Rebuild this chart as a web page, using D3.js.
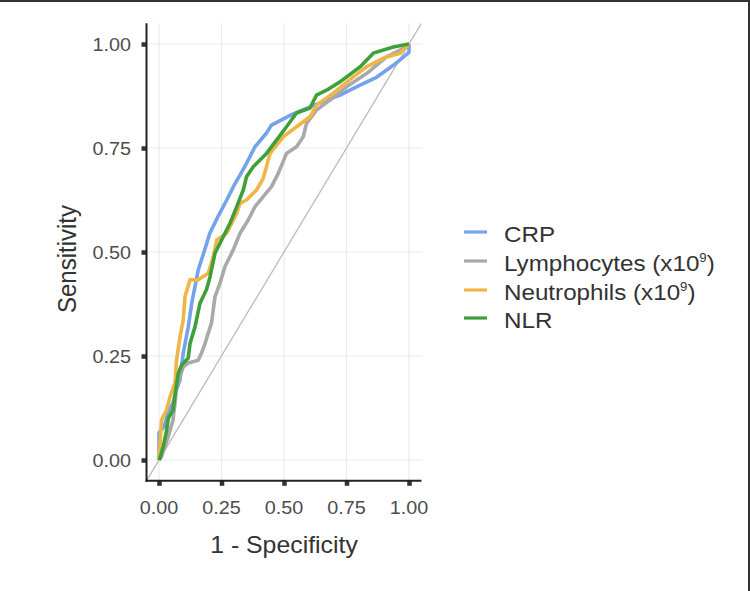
<!DOCTYPE html>
<html>
<head>
<meta charset="utf-8">
<script src="https://cdnjs.cloudflare.com/ajax/libs/d3/7.8.5/d3.min.js"></script>
<style>
  body { margin: 0; background: #fff; }
  svg { display: block; font-family: "Liberation Sans", Arial, Helvetica, sans-serif; }
</style>
</head>
<body>
<div id="chart"></div>
<script>
// ROC curves, values (1 - specificity, sensitivity)
var seriesNames = ["CRP", "Lymphocytes (x10", "Neutrophils (x10", "NLR"];
var seriesSup = ["", "9", "9", ""];
var seriesColors = ["#74a3ea", "#a9a9a9", "#efb646", "#3f9f3a"];

var crpFpr = [0, 0, 0.02, 0.04, 0.056, 0.07, 0.084, 0.097, 0.117, 0.131, 0.157, 0.18, 0.204, 0.24, 0.271, 0.3, 0.324, 0.35, 0.384, 0.43, 0.45, 0.53, 0.604, 0.724, 0.8, 0.87, 0.94, 1, 1];
var crpTpr = [0, 0.065, 0.08, 0.12, 0.137, 0.17, 0.192, 0.257, 0.32, 0.377, 0.457, 0.5, 0.546, 0.59, 0.625, 0.66, 0.685, 0.713, 0.753, 0.786, 0.805, 0.83, 0.849, 0.877, 0.9, 0.92, 0.95, 0.98, 1];

var lymFpr = [0, 0.01, 0.037, 0.056, 0.064, 0.07, 0.097, 0.117, 0.157, 0.17, 0.184, 0.197, 0.21, 0.224, 0.244, 0.264, 0.297, 0.324, 0.357, 0.384, 0.417, 0.45, 0.477, 0.51, 0.55, 0.577, 0.59, 0.63, 0.684, 0.75, 0.83, 0.91, 0.99, 1];
var lymTpr = [0, 0.008, 0.056, 0.096, 0.137, 0.176, 0.224, 0.233, 0.24, 0.257, 0.28, 0.305, 0.329, 0.393, 0.425, 0.465, 0.505, 0.545, 0.577, 0.609, 0.633, 0.657, 0.689, 0.737, 0.753, 0.777, 0.809, 0.841, 0.865, 0.897, 0.929, 0.969, 0.993, 1];

var neuFpr = [0, 0.01, 0.03, 0.044, 0.064, 0.07, 0.084, 0.097, 0.104, 0.124, 0.157, 0.197, 0.217, 0.231, 0.271, 0.311, 0.324, 0.35, 0.39, 0.417, 0.444, 0.497, 0.55, 0.604, 0.63, 0.697, 0.777, 0.83, 0.897, 0.964, 1];
var neuTpr = [0, 0.096, 0.12, 0.152, 0.185, 0.24, 0.296, 0.337, 0.393, 0.433, 0.433, 0.449, 0.489, 0.529, 0.545, 0.593, 0.617, 0.625, 0.649, 0.677, 0.737, 0.777, 0.801, 0.825, 0.853, 0.882, 0.921, 0.945, 0.966, 0.978, 1];

var nlrFpr = [0, 0.004, 0.016, 0.03, 0.037, 0.056, 0.065, 0.077, 0.09, 0.117, 0.124, 0.144, 0.164, 0.19, 0.204, 0.224, 0.257, 0.284, 0.311, 0.337, 0.35, 0.377, 0.43, 0.47, 0.51, 0.55, 0.604, 0.63, 0.67, 0.724, 0.804, 0.857, 0.937, 1];
var nlrTpr = [0, 0.005, 0.03, 0.07, 0.1, 0.12, 0.16, 0.208, 0.228, 0.245, 0.28, 0.32, 0.377, 0.41, 0.44, 0.497, 0.537, 0.569, 0.609, 0.649, 0.681, 0.705, 0.737, 0.769, 0.801, 0.834, 0.846, 0.877, 0.889, 0.909, 0.945, 0.978, 0.993, 1];

var tickValues = [0, 0.25, 0.5, 0.75, 1];
var tickLabels = ["0.00", "0.25", "0.50", "0.75", "1.00"];

var svgWidth = 750;
var svgHeight = 591;

var svg = d3.select("#chart")
  .append("svg")
  .attr("width", svgWidth)
  .attr("height", svgHeight);

// panel scales (ggplot style 5% expansion)
var x = d3.scaleLinear().domain([-0.05, 1.05]).range([146.5, 421.5]);
var y = d3.scaleLinear().domain([-0.05, 1.05]).range([480.8, 23.2]);

svg.append("defs").append("clipPath")
  .attr("id", "panel")
  .append("rect")
  .attr("x", x(-0.05)).attr("y", y(1.05))
  .attr("width", x(1.05) - x(-0.05))
  .attr("height", y(-0.05) - y(1.05));

// grid
var grid = svg.append("g");
grid.selectAll(".gx").data(tickValues).enter().append("line")
  .attr("x1", d => x(d)).attr("x2", d => x(d))
  .attr("y1", y(-0.05)).attr("y2", y(1.05))
  .attr("stroke", "#ebebeb").attr("stroke-width", 1.2);
grid.selectAll(".gy").data(tickValues).enter().append("line")
  .attr("y1", d => y(d)).attr("y2", d => y(d))
  .attr("x1", x(-0.05)).attr("x2", x(1.05))
  .attr("stroke", "#ebebeb").attr("stroke-width", 1.2);

var panel = svg.append("g").attr("clip-path", "url(#panel)");

// reference diagonal
panel.append("line")
  .attr("x1", x(-0.05)).attr("y1", y(-0.05))
  .attr("x2", x(1.05)).attr("y2", y(1.05))
  .attr("stroke", "#bbbbbb").attr("stroke-width", 1.3);

var curves = [
  d3.zip(crpFpr, crpTpr),
  d3.zip(lymFpr, lymTpr),
  d3.zip(neuFpr, neuTpr),
  d3.zip(nlrFpr, nlrTpr)
];

var line = d3.line()
  .x(d => x(d[0]))
  .y(d => y(d[1]));

panel.selectAll(".roc")
  .data(curves)
  .enter()
  .append("path")
  .attr("d", line)
  .attr("fill", "none")
  .attr("stroke", (d, i) => seriesColors[i])
  .attr("stroke-width", 3.6)
  .attr("stroke-linejoin", "round");

// axes
var xAxis = d3.axisBottom(x).tickValues(tickValues).tickSize(5).tickFormat("");
var yAxis = d3.axisLeft(y).tickValues(tickValues).tickSize(5).tickFormat("");

var gx = svg.append("g")
  .attr("transform", `translate(0, ${y(-0.05)})`)
  .call(xAxis);
var gy = svg.append("g")
  .attr("transform", `translate(${x(-0.05)}, 0)`)
  .call(yAxis);

[gx, gy].forEach(function(g) {
  g.select(".domain").remove();
  g.selectAll(".tick line").attr("stroke", "#333").attr("stroke-width", 4.5);
});

svg.append("line")
  .attr("x1", x(-0.05)).attr("x2", x(-0.05))
  .attr("y1", y(1.05)).attr("y2", y(-0.05) + 1)
  .attr("stroke", "#222").attr("stroke-width", 2);
svg.append("line")
  .attr("x1", x(-0.05) - 1).attr("x2", x(1.05))
  .attr("y1", y(-0.05)).attr("y2", y(-0.05))
  .attr("stroke", "#222").attr("stroke-width", 2);

// text helper, sx stretches the glyphs sideways on screen
function label(px, py, txt, size, anchor, color, sx, rot) {
  var t = svg.append("text")
    .attr("transform", `translate(${px}, ${py}) ${rot ? "rotate(-90)" : ""} scale(${rot ? 1 : sx}, ${rot ? sx : 1})`)
    .attr("text-anchor", anchor)
    .attr("font-size", size)
    .attr("fill", color)
    .text(txt);
  return t;
}

tickValues.forEach(function(v, i) {
  label(x(v), 514, tickLabels[i], 18, "middle", "#4d4d4d", 1.1);
  label(131, y(v) + 6.5, tickLabels[i], 18, "end", "#4d4d4d", 1.1);
});

label(x(0.5), 553, "1 - Specificity", 23, "middle", "#333", 1.08);
label(76, 259, "Sensitivity", 24, "middle", "#333", 1.05, true);

// legend
var legendY = [234, 263, 292, 320];
seriesNames.forEach(function(name, i) {
  svg.append("line")
    .attr("x1", 464).attr("x2", 487)
    .attr("y1", legendY[i] - 2).attr("y2", legendY[i] - 2)
    .attr("stroke", seriesColors[i])
    .attr("stroke-width", 3.2);
  var t = label(504, legendY[i] + 8, name, 22, "start", "#333", 1.1);
  if (seriesSup[i]) {
    t.append("tspan").attr("font-size", 12).attr("dy", -9).text(seriesSup[i]);
    t.append("tspan").attr("dy", 9).text(")");
  }
});

// frame edges seen in the picture
svg.append("line")
  .attr("x1", 0).attr("x2", svgWidth).attr("y1", 1).attr("y2", 1)
  .attr("stroke", "#333").attr("stroke-width", 2);
svg.append("line")
  .attr("x1", svgWidth - 1).attr("x2", svgWidth - 1).attr("y1", 0).attr("y2", svgHeight)
  .attr("stroke", "#333").attr("stroke-width", 2);
</script>
</body>
</html>
